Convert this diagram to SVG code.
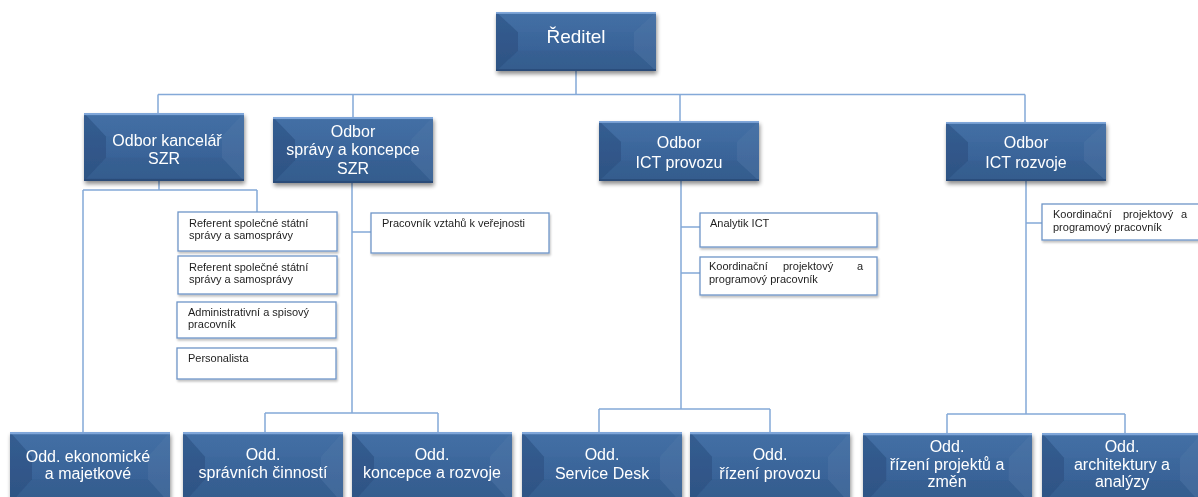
<svg xmlns="http://www.w3.org/2000/svg" xmlns:xlink="http://www.w3.org/1999/xlink" width="1198" height="497" viewBox="0 0 1198 497">
<style>
.big{font-family:"Liberation Sans",Arial,sans-serif;font-size:16px;fill:#ffffff;text-anchor:middle}
.small{font-family:"Liberation Sans",Arial,sans-serif;font-size:11px;fill:#1e1e1e}
.conn{fill:none;stroke:#84a9d8;stroke-width:1.5}
.sbox{fill:#ffffff;stroke:#6f95c8;stroke-width:1.3}
</style>
<defs>
<linearGradient id="face" x1="0" y1="0" x2="0" y2="1">
<stop offset="0" stop-color="#3f6ca3"/>
<stop offset="1" stop-color="#365f92"/>
</linearGradient>
<filter id="sh" x="-10%" y="-10%" width="125%" height="135%">
<feGaussianBlur in="SourceAlpha" stdDeviation="2"/>
<feOffset dx="1" dy="3" result="b"/>
<feComponentTransfer><feFuncA type="linear" slope="0.45"/></feComponentTransfer>
<feMerge><feMergeNode/><feMergeNode in="SourceGraphic"/></feMerge>
</filter>
<filter id="sh2" x="-10%" y="-10%" width="125%" height="140%">
<feGaussianBlur in="SourceAlpha" stdDeviation="1.2"/>
<feOffset dx="1" dy="2" result="b"/>
<feComponentTransfer><feFuncA type="linear" slope="0.25"/></feComponentTransfer>
<feMerge><feMergeNode/><feMergeNode in="SourceGraphic"/></feMerge>
</filter>
<symbol id="bevel" viewBox="0 0 160 64" preserveAspectRatio="none">
<rect x="0" y="0" width="160" height="64" fill="url(#face)"/>
<polygon points="0,0 22,22 22,42 0,64" fill="#102a50" fill-opacity="0.22"/>
<polygon points="160,0 138,22 138,42 160,64" fill="#ffffff" fill-opacity="0.05"/>
<polygon points="0,0 160,0 138,22 22,22" fill="#ffffff" fill-opacity="0.025"/>
<polygon points="0,64 160,64 138,42 22,42" fill="#0b1f3e" fill-opacity="0.05"/>
<rect x="0" y="0" width="160" height="2" fill="#7fa6d9"/>
<rect x="0" y="62" width="160" height="2" fill="#2a4c78"/>
</symbol>
</defs>
<rect width="1198" height="497" fill="#ffffff"/>

<g id="connectors">
<path class="conn" d="M576 71V94.5M158 94.5H1025M158 94.5V113M353 94.5V117M680 94.5V121M1025 94.5V122"/>
<path class="conn" d="M159 181V190M83 190H257M83 190V432M257 190V212"/>
<path class="conn" d="M352 183V413M352 232H371M265 413H438M265 413V432M438 413V432"/>
<path class="conn" d="M681 181V409M681 227H700M681 273H700M599 409H770M599 409V432M770 409V432"/>
<path class="conn" d="M1026 181V414M1026 223H1042M947 414H1125M947 414V433M1125 414V433"/>
<path d="M58 475V497" fill="none" stroke="#9b8567" stroke-width="1.3"/>
</g>

<g id="reditel" filter="url(#sh)">
<use href="#bevel" x="496" y="12" width="160" height="59"/>
<text class="big" x="576" y="43" style="font-size:19px">Ředitel</text>
</g>
<g id="odbor-kancelar" filter="url(#sh)">
<use href="#bevel" x="84" y="113" width="160" height="68"/>
<text class="big" x="167" y="146">Odbor kancelář</text>
<text class="big" x="164" y="164">SZR</text>
</g>
<g id="odbor-spravy" filter="url(#sh)">
<use href="#bevel" x="273" y="117" width="160" height="66"/>
<text class="big" x="353" y="137">Odbor</text>
<text class="big" x="353" y="155">správy a koncepce</text>
<text class="big" x="353" y="174">SZR</text>
</g>
<g id="odbor-ict-provozu" filter="url(#sh)">
<use href="#bevel" x="599" y="121" width="160" height="60"/>
<text class="big" x="679" y="148">Odbor</text>
<text class="big" x="679" y="168">ICT provozu</text>
</g>
<g id="odbor-ict-rozvoje" filter="url(#sh)">
<use href="#bevel" x="946" y="122" width="160" height="59"/>
<text class="big" x="1026" y="148">Odbor</text>
<text class="big" x="1026" y="168">ICT rozvoje</text>
</g>

<g id="ref1" filter="url(#sh2)">
<rect class="sbox" x="178" y="212" width="159" height="39"/>
<text class="small" x="189" y="227">Referent společné státní</text>
<text class="small" x="189" y="239">správy a samosprávy</text>
</g>
<g id="ref2" filter="url(#sh2)">
<rect class="sbox" x="178" y="256" width="159" height="38"/>
<text class="small" x="189" y="271">Referent společné státní</text>
<text class="small" x="189" y="283">správy a samosprávy</text>
</g>
<g id="admin" filter="url(#sh2)">
<rect class="sbox" x="177" y="302" width="159" height="36"/>
<text class="small" x="188" y="316">Administrativní a spisový</text>
<text class="small" x="188" y="328">pracovník</text>
</g>
<g id="personalista" filter="url(#sh2)">
<rect class="sbox" x="177" y="348" width="159" height="31"/>
<text class="small" x="188" y="362">Personalista</text>
</g>
<g id="pracovnik-vztahu" filter="url(#sh2)">
<rect class="sbox" x="371" y="213" width="178" height="40"/>
<text class="small" x="382" y="227">Pracovník vztahů k veřejnosti</text>
</g>
<g id="analytik-ict" filter="url(#sh2)">
<rect class="sbox" x="700" y="213" width="177" height="34"/>
<text class="small" x="710" y="227">Analytik ICT</text>
</g>
<g id="koord-provoz" filter="url(#sh2)">
<rect class="sbox" x="700" y="257" width="177" height="38"/>
<text class="small" x="709" y="270">Koordinační</text>
<text class="small" x="783" y="270">projektový</text>
<text class="small" x="857" y="270">a</text>
<text class="small" x="709" y="283">programový pracovník</text>
</g>
<g id="koord-rozvoj" filter="url(#sh2)">
<rect class="sbox" x="1042" y="204" width="162" height="36"/>
<text class="small" x="1053" y="218">Koordinační</text>
<text class="small" x="1123" y="218">projektový</text>
<text class="small" x="1181" y="218">a</text>
<text class="small" x="1053" y="231">programový pracovník</text>
</g>

<g id="odd-ekonomicke" filter="url(#sh)">
<use href="#bevel" x="10" y="432" width="160" height="72"/>
<text class="big" x="88" y="462">Odd. ekonomické</text>
<text class="big" x="88" y="479">a majetkové</text>
</g>
<g id="odd-spravnich" filter="url(#sh)">
<use href="#bevel" x="183" y="432" width="160" height="72"/>
<text class="big" x="263" y="460">Odd.</text>
<text class="big" x="263" y="478">správních činností</text>
</g>
<g id="odd-koncepce" filter="url(#sh)">
<use href="#bevel" x="352" y="432" width="160" height="72"/>
<text class="big" x="432" y="460">Odd.</text>
<text class="big" x="432" y="478">koncepce a rozvoje</text>
</g>
<g id="odd-service-desk" filter="url(#sh)">
<use href="#bevel" x="522" y="432" width="160" height="72"/>
<text class="big" x="602" y="460">Odd.</text>
<text class="big" x="602" y="479">Service Desk</text>
</g>
<g id="odd-rizeni-provozu" filter="url(#sh)">
<use href="#bevel" x="690" y="432" width="160" height="72"/>
<text class="big" x="770" y="460">Odd.</text>
<text class="big" x="770" y="479">řízení provozu</text>
</g>
<g id="odd-rizeni-projektu" filter="url(#sh)">
<use href="#bevel" x="863" y="433" width="169" height="72"/>
<text class="big" x="947" y="452">Odd.</text>
<text class="big" x="947" y="470">řízení projektů a</text>
<text class="big" x="947" y="487">změn</text>
</g>
<g id="odd-architektury" filter="url(#sh)">
<use href="#bevel" x="1042" y="433" width="160" height="72"/>
<text class="big" x="1122" y="452">Odd.</text>
<text class="big" x="1122" y="470">architektury a</text>
<text class="big" x="1122" y="487">analýzy</text>
</g>
</svg>
